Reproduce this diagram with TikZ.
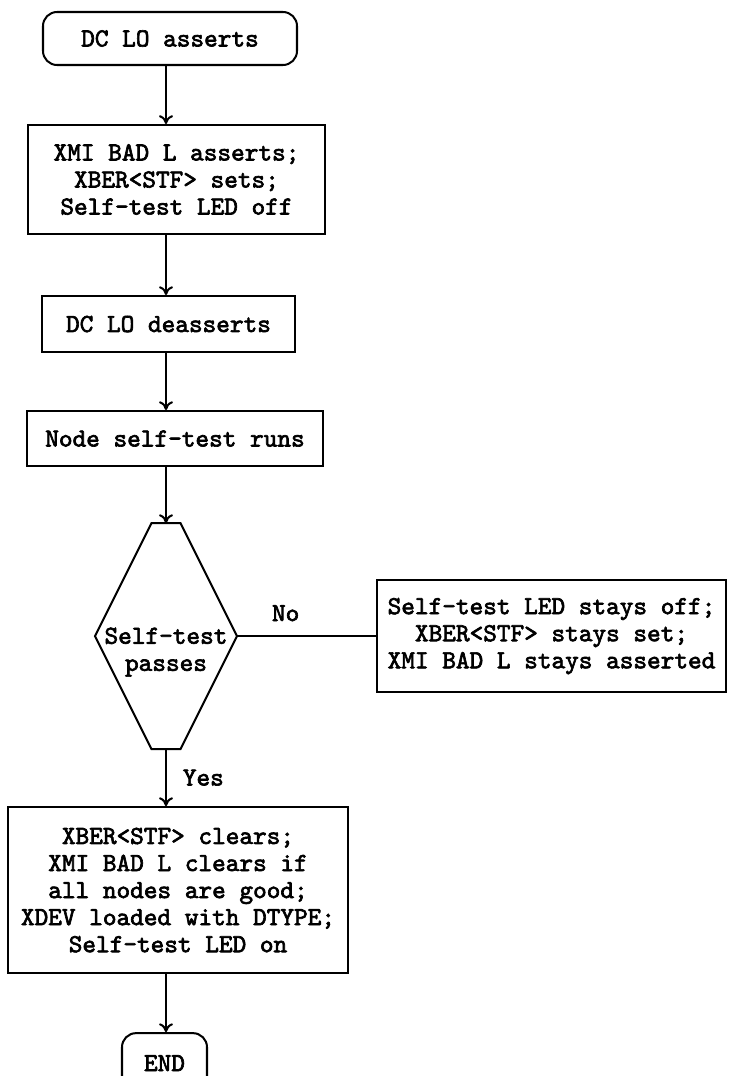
\documentclass[tikz,border=0pt]{standalone}
\usepackage{fontspec}
\newfontfamily\flowfont{lmmono10-regular.otf}[FakeBold=2.5]
\usepackage{tikz}
\usetikzlibrary{positioning,arrows.meta}

\begin{document}
\begin{tikzpicture}[
font=\fontsize{14.8pt}{15.4pt}\selectfont\flowfont,
line width=1.15pt,
box/.style={draw, align=center, inner sep=4pt},
term/.style={box, rounded corners=8pt},
arr/.style={-{To[length=5pt,width=8pt]}},
node distance=1.16cm
]
\useasboundingbox (0,0) rectangle (14.58,-21.52);

\node[term, minimum width=5.08cm, minimum height=1.06cm] (start) at (3.40,-0.77) {DC LO asserts};
\node[box, below=of start, xshift=0.13cm, minimum width=5.94cm, minimum height=2.18cm] (badl) {XMI BAD L asserts;\\XBER<STF> sets;\\Self-test LED off};
\node[box, below=1.2cm of badl, xshift=-0.16cm, minimum width=5.06cm, minimum height=1.12cm] (deassert) {DC LO deasserts};
\node[box, below=1.14cm of deassert, xshift=0.13cm, minimum width=5.92cm, minimum height=1.10cm] (runs) {Node self-test runs};
\node[below=1.12cm of runs, xshift=-0.18cm, minimum width=2.8cm, minimum height=4.48cm, inner sep=0pt] (dec) {};
\node[align=center] (dectext) at ([yshift=-0.32cm]dec.center) {Self-test\\passes};
\node[box, right=2.78cm of dec, minimum width=6.98cm, minimum height=2.24cm] (fail) {Self-test LED stays off;\\XBER<STF> stays set;\\XMI BAD L stays asserted};
\node[box, below=1.14cm of dec, xshift=0.24cm, minimum width=6.8cm, minimum height=3.32cm] (pass) {XBER<STF> clears;\\XMI BAD L clears if\\all nodes are good;\\XDEV loaded with DTYPE;\\Self-test LED on};
\node[term, below=of pass, xshift=-0.27cm, minimum width=1.7cm, minimum height=1.2cm] (stop) {END};

\draw ([xshift=-0.29cm]dec.north) -- ([xshift=0.29cm]dec.north) -- (dec.east)
  -- ([xshift=0.29cm]dec.south) -- ([xshift=-0.29cm]dec.south) -- (dec.west) -- cycle;

\draw[arr] (start.south -| dec) -- (badl.north -| dec);
\draw[arr] (badl.south -| dec) -- (deassert.north -| dec);
\draw[arr] (deassert.south -| dec) -- (runs.north -| dec);
\draw[arr] (runs.south -| dec) -- (dec.north);
\draw (dec.east) -- node[above=0.16cm, pos=0.35] {No} (fail.west);
\draw[arr] (dec.south) -- node[right=0.2cm] {Yes} (pass.north -| dec);
\draw[arr] (pass.south -| dec) -- (stop.north -| dec);
\end{tikzpicture}
\end{document}
